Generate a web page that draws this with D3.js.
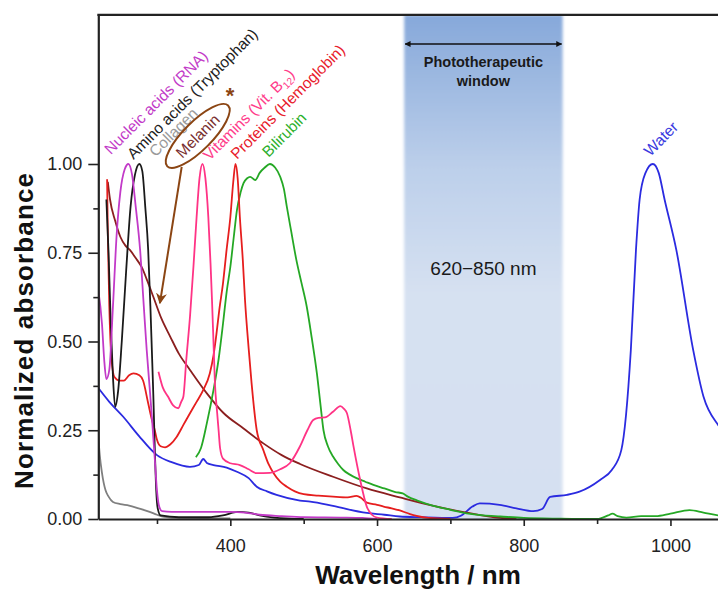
<!DOCTYPE html>
<html>
<head>
<meta charset="utf-8">
<script src="https://cdn.jsdelivr.net/npm/d3@7"></script>
<style>
  body { margin: 0; background: #fff; }
  svg { display: block; font-family: "Liberation Sans", Arial, sans-serif; }
</style>
</head>
<body>
<svg id="chart" width="718" height="592"></svg>
<script>
// spectra (wavelength in nm, normalized absorbance)
var nucleicNm  = [220, 225, 228, 231, 235, 240, 245, 250, 256, 261, 266, 271, 277, 282, 286, 290, 293, 297, 300, 303, 307, 320, 360, 400, 420, 440, 470, 500, 550, 580, 600];
var nucleicAbs = [0.645, 0.55, 0.45, 0.394, 0.42, 0.6, 0.8, 0.92, 0.985, 1.0, 0.97, 0.88, 0.758, 0.6, 0.476, 0.37, 0.288, 0.17, 0.08, 0.035, 0.022, 0.02, 0.02, 0.02, 0.018, 0.012, 0.008, 0.005, 0.004, 0.003, 0.0];

var aminoNm  = [231, 234, 237, 240, 243, 247, 252, 258, 264, 270, 276, 280, 284, 288, 291, 293, 295, 297, 299, 301, 305, 330, 370, 390, 410, 425, 440, 460, 500];
var aminoAbs = [0.9, 0.75, 0.55, 0.4, 0.316, 0.36, 0.5, 0.7, 0.88, 0.97, 1.0, 0.98, 0.88, 0.758, 0.6, 0.476, 0.35, 0.2, 0.08, 0.03, 0.01, 0.005, 0.005, 0.01, 0.02, 0.018, 0.01, 0.004, 0.0];

var collagenNm  = [220, 222, 225, 230, 234, 240, 250, 262, 275, 290, 300, 310, 330, 400];
var collagenAbs = [0.232, 0.18, 0.13, 0.08, 0.063, 0.048, 0.042, 0.038, 0.03, 0.02, 0.012, 0.006, 0.003, 0.002];

var melaninNm  = [233, 236, 243, 250, 257, 263, 271, 279, 287, 295, 306, 318, 330, 345, 368, 390, 418, 445, 470, 495, 540, 586, 631, 677, 722, 768, 790];
var melaninAbs = [0.95, 0.9, 0.84, 0.795, 0.77, 0.758, 0.735, 0.71, 0.67, 0.626, 0.565, 0.514, 0.465, 0.42, 0.354, 0.3, 0.255, 0.213, 0.18, 0.155, 0.119, 0.086, 0.061, 0.037, 0.018, 0.003, 0.0];

var vitaminNm  = [302, 308, 315, 322, 329, 333, 336, 340, 345, 350, 354, 358, 362, 366, 370, 373, 375, 377, 379, 382, 384, 386, 390, 400, 413, 425, 436, 454, 468, 481, 495, 505, 513, 520, 529, 540, 550, 555, 559, 564, 568, 577, 586, 593, 600, 620];
var vitaminAbs = [0.415, 0.37, 0.345, 0.32, 0.312, 0.33, 0.345, 0.45, 0.57, 0.72, 0.85, 0.96, 1.0, 0.96, 0.85, 0.72, 0.617, 0.5, 0.383, 0.3, 0.25, 0.2, 0.17, 0.157, 0.152, 0.14, 0.129, 0.13, 0.14, 0.157, 0.205, 0.25, 0.279, 0.285, 0.286, 0.302, 0.318, 0.31, 0.298, 0.25, 0.204, 0.11, 0.035, 0.012, 0.004, 0.0];

var proteinNm  = [232, 233, 235, 238, 242, 249, 255, 262, 268, 276, 281, 288, 293, 297, 300, 305, 311, 318, 327, 336, 345, 354, 363, 372, 377, 381, 385, 390, 395, 400, 404, 407, 410, 413, 417, 420, 425, 429, 436, 445, 452, 459, 468, 477, 488, 500, 520, 540, 560, 572, 578, 586, 600, 609, 620, 631, 645, 654, 670, 700];
var proteinAbs = [0.957, 0.8, 0.6, 0.45, 0.4, 0.39, 0.39, 0.405, 0.41, 0.405, 0.39, 0.326, 0.28, 0.25, 0.223, 0.205, 0.202, 0.21, 0.232, 0.265, 0.298, 0.33, 0.363, 0.41, 0.46, 0.52, 0.59, 0.664, 0.76, 0.85, 0.95, 1.0, 0.96, 0.85, 0.73, 0.617, 0.48, 0.382, 0.25, 0.194, 0.155, 0.129, 0.105, 0.091, 0.078, 0.07, 0.066, 0.063, 0.061, 0.065, 0.06, 0.046, 0.04, 0.035, 0.03, 0.024, 0.014, 0.009, 0.003, 0.0];

var bilirubinNm  = [353, 360, 368, 377, 384, 390, 395, 400, 405, 409, 414, 418, 423, 427, 434, 440, 447, 454, 461, 468, 473, 477, 483, 490, 497, 504, 511, 518, 523, 527, 533, 540, 547, 554, 563, 572, 584, 595, 610, 625, 635, 642, 655, 677, 700, 722, 745, 768, 800, 850, 900, 915, 921, 928, 940, 960, 980, 1000, 1026, 1045, 1065, 1080];
var bilirubinAbs = [0.174, 0.2, 0.27, 0.363, 0.45, 0.55, 0.64, 0.71, 0.8, 0.87, 0.92, 0.946, 0.96, 0.964, 0.955, 0.975, 0.99, 1.0, 0.99, 0.964, 0.93, 0.88, 0.81, 0.73, 0.665, 0.6, 0.51, 0.41, 0.32, 0.25, 0.205, 0.176, 0.155, 0.138, 0.125, 0.115, 0.105, 0.096, 0.086, 0.076, 0.072, 0.063, 0.052, 0.037, 0.026, 0.016, 0.01, 0.007, 0.003, 0.001, 0.0, 0.01, 0.015, 0.008, 0.004, 0.008, 0.008, 0.015, 0.025, 0.018, 0.01, 0.008];

var waterNm  = [220, 235, 254, 275, 300, 320, 345, 357, 363, 368, 377, 395, 409, 425, 436, 450, 463, 495, 509, 540, 586, 610, 631, 660, 703, 715, 730, 740, 767, 790, 813, 825, 836, 859, 876, 904, 920, 933, 946, 953, 958, 966, 976, 984, 992, 1008, 1031, 1045, 1065, 1080];
var waterAbs = [0.369, 0.33, 0.288, 0.235, 0.18, 0.16, 0.147, 0.152, 0.169, 0.158, 0.152, 0.145, 0.133, 0.115, 0.091, 0.078, 0.068, 0.052, 0.049, 0.037, 0.017, 0.012, 0.007, 0.005, 0.003, 0.01, 0.035, 0.044, 0.04, 0.03, 0.022, 0.028, 0.062, 0.068, 0.077, 0.11, 0.138, 0.194, 0.476, 0.758, 0.9, 0.975, 1.0, 0.975, 0.9, 0.758, 0.476, 0.345, 0.265, 0.23];

var xMajorTicks = [400, 600, 800, 1000];
var xMinorTicks = [300, 500, 700, 900];
var yMajorTicks = [0, 0.25, 0.5, 0.75, 1.0];
var yMinorTicks = [0.125, 0.375, 0.625, 0.875];

var windowNm = [637, 853];

var series = [
  {name: "Water",       nm: waterNm,     abs: waterAbs,     color: "#2b2be0"},
  {name: "Collagen",    nm: collagenNm,  abs: collagenAbs,  color: "#7f7f7f"},
  {name: "Melanin",     nm: melaninNm,   abs: melaninAbs,   color: "#8b1f1f"},
  {name: "Bilirubin",   nm: bilirubinNm, abs: bilirubinAbs, color: "#25a825"},
  {name: "Proteins",    nm: proteinNm,   abs: proteinAbs,   color: "#e61e1e"},
  {name: "Vitamins",    nm: vitaminNm,   abs: vitaminAbs,   color: "#ff3385"},
  {name: "Amino acids", nm: aminoNm,     abs: aminoAbs,     color: "#1a1a1a"},
  {name: "Nucleic",     nm: nucleicNm,   abs: nucleicAbs,   color: "#c23ac8"}
];

// rotated labels: anchor in data units
var labels = [
  {parts: ["Nucleic acids (RNA)"],        nm: 237,   v: 1.025, color: "#c23ac8"},
  {parts: ["Amino acids (Tryptophan)"],   nm: 268,   v: 1.011, color: "#222"},
  {parts: ["Collagen"],                   nm: 298,   v: 1.018, color: "#9a9a9a"},
  {parts: ["Vitamins (Vit. B", "12", ")"], nm: 371.5, v: 1.008, color: "#ff3d8b"},
  {parts: ["Proteins (Hemoglobin)"],      nm: 409,   v: 1.011, color: "#e8202c"},
  {parts: ["Bilirubin"],                  nm: 452,   v: 1.017, color: "#2cb02c"},
  {parts: ["Water"],                      nm: 972.5, v: 1.02,  color: "#3a3ae0"}
];

var svg = d3.select("#chart");

var x = d3.scaleLinear().domain([220, 1100]).range([98.3, 743.8]);
var y = d3.scaleLinear().domain([0, 1.42]).range([519, 14.9]);

var defs = svg.append("defs");

var grad = defs.append("linearGradient")
    .attr("id", "winGrad")
    .attr("x1", 0).attr("y1", 0).attr("x2", 0).attr("y2", 1);
grad.append("stop").attr("offset", "0%").attr("stop-color", "#86a8da");
grad.append("stop").attr("offset", "30%").attr("stop-color", "#bccfea");
grad.append("stop").attr("offset", "55%").attr("stop-color", "#d6e1f1");
grad.append("stop").attr("offset", "100%").attr("stop-color", "#d5e0f1");

defs.append("filter").attr("id", "soft")
  .append("feGaussianBlur").attr("stdDeviation", 1.8);

defs.append("clipPath").attr("id", "plotClip")
  .append("rect")
    .attr("x", x(220)).attr("y", y(1.42))
    .attr("width", x(1100) - x(220)).attr("height", y(0) - y(1.42));

// arrow markers
function addMarker(id, color, orient) {
  defs.append("marker")
      .attr("id", id)
      .attr("viewBox", "0 0 10 10")
      .attr("refX", 9).attr("refY", 5)
      .attr("markerWidth", 6).attr("markerHeight", 6)
      .attr("markerUnits", "userSpaceOnUse")
      .attr("orient", orient)
    .append("path")
      .attr("d", "M0,0 L10,5 L0,10 z")
      .attr("fill", color);
}
addMarker("arrBlackEnd", "#111", "auto");
addMarker("arrBlackStart", "#111", "auto-start-reverse");
defs.append("marker")
    .attr("id", "arrBrown")
    .attr("viewBox", "0 0 10 10")
    .attr("refX", 9).attr("refY", 5)
    .attr("markerWidth", 11).attr("markerHeight", 11)
    .attr("markerUnits", "userSpaceOnUse")
    .attr("orient", "auto")
  .append("path")
    .attr("d", "M0,0 L10,5 L0,10 L3,5 z")
    .attr("fill", "#8b4513");

var plot = svg.append("g").attr("clip-path", "url(#plotClip)");

// phototherapeutic window
plot.append("rect")
    .attr("x", x(windowNm[0]))
    .attr("y", y(1.42))
    .attr("width", x(windowNm[1]) - x(windowNm[0]))
    .attr("height", y(0) - y(1.42) + 4)
    .attr("fill", "url(#winGrad)")
    .attr("filter", "url(#soft)");

var line = d3.line()
    .x(function(d) { return x(d[0]); })
    .y(function(d) { return y(d[1]); })
    .curve(d3.curveMonotoneX);

plot.selectAll(".spec")
    .data(series)
  .enter().append("path")
    .attr("class", "spec")
    .attr("fill", "none")
    .attr("stroke", function(d) { return d.color; })
    .attr("stroke-width", 1.8)
    .attr("stroke-linejoin", "round")
    .attr("d", function(d) { return line(d3.zip(d.nm, d.abs)); });

// axes
var xAxis = svg.append("g")
    .attr("transform", "translate(0," + y(0) + ")")
    .call(d3.axisBottom(x).tickValues(xMajorTicks).tickFormat(d3.format("d"))
      .tickSize(7).tickSizeOuter(0).tickPadding(13));
svg.append("g")
    .attr("transform", "translate(0," + y(0) + ")")
    .call(d3.axisBottom(x).tickValues(xMinorTicks).tickFormat("")
      .tickSize(5).tickSizeOuter(0))
    .select(".domain").remove();

var yAxis = svg.append("g")
    .attr("transform", "translate(" + x(220) + ",0)")
    .call(d3.axisLeft(y).tickValues(yMajorTicks).tickFormat(d3.format(".2f"))
      .tickSize(10).tickSizeOuter(0).tickPadding(6));
svg.append("g")
    .attr("transform", "translate(" + x(220) + ",0)")
    .call(d3.axisLeft(y).tickValues(yMinorTicks).tickFormat("")
      .tickSize(5).tickSizeOuter(0))
    .select(".domain").remove();

svg.selectAll(".domain").attr("stroke", "#222").attr("stroke-width", 2.2);
svg.selectAll(".tick line").attr("stroke", "#222").attr("stroke-width", 1.6);
svg.selectAll(".tick text")
    .attr("font-size", 18)
    .attr("fill", "#222")
    .attr("font-family", "'Liberation Sans', Arial, sans-serif");

// top frame
svg.append("line")
    .attr("x1", x(220) - 1).attr("x2", x(1100))
    .attr("y1", y(1.42)).attr("y2", y(1.42))
    .attr("stroke", "#222").attr("stroke-width", 2.2);

// axis titles
svg.append("text")
    .attr("x", 418).attr("y", 584)
    .attr("text-anchor", "middle")
    .attr("font-size", 26).attr("font-weight", "bold")
    .attr("fill", "#111")
    .text("Wavelength / nm");

svg.append("text")
    .attr("transform", "translate(33,331) rotate(-90)")
    .attr("text-anchor", "middle")
    .attr("font-size", 26).attr("font-weight", "bold")
    .attr("textLength", 316).attr("lengthAdjust", "spacing")
    .attr("fill", "#111")
    .text("Normalized absorbance");

// window annotation
var wMid = (windowNm[0] + windowNm[1]) / 2;
svg.append("line")
    .attr("x1", x(windowNm[0]) + 1).attr("x2", x(windowNm[1]) - 1)
    .attr("y1", y(1.338)).attr("y2", y(1.338))
    .attr("stroke", "#111").attr("stroke-width", 1.6)
    .attr("marker-start", "url(#arrBlackStart)")
    .attr("marker-end", "url(#arrBlackEnd)");
svg.append("text")
    .attr("x", x(wMid)).attr("y", y(1.273))
    .attr("text-anchor", "middle")
    .attr("font-size", 14.5).attr("font-weight", "bold").attr("fill", "#1a1a1a")
    .text("Phototherapeutic");
svg.append("text")
    .attr("x", x(wMid)).attr("y", y(1.22))
    .attr("text-anchor", "middle")
    .attr("font-size", 14.5).attr("font-weight", "bold").attr("fill", "#1a1a1a")
    .text("window");
svg.append("text")
    .attr("x", x(wMid)).attr("y", y(0.687))
    .attr("text-anchor", "middle")
    .attr("font-size", 19).attr("fill", "#1a1a1a")
    .text("620\u2212850 nm");

// rotated compound labels
labels.forEach(function(l) {
  var t = svg.append("text")
      .attr("transform", "translate(" + x(l.nm) + "," + y(l.v) + ") rotate(-45)")
      .attr("font-size", 15.5)
      .attr("fill", l.color);
  t.append("tspan").text(l.parts[0]);
  if (l.parts.length > 1) {
    t.append("tspan").attr("font-size", 10).attr("dy", 4).text(l.parts[1]);
    t.append("tspan").attr("dy", -4).text(l.parts[2]);
  }
});

// melanin callout
var melC = [355.5, 1.079];
svg.append("ellipse")
    .attr("transform", "translate(" + x(melC[0]) + "," + y(melC[1]) + ") rotate(-45)")
    .attr("rx", 43).attr("ry", 14)
    .attr("fill", "none")
    .attr("stroke", "#8b4513").attr("stroke-width", 2);
svg.append("text")
    .attr("transform", "translate(" + x(melC[0]) + "," + y(melC[1]) + ") rotate(-45)")
    .attr("text-anchor", "middle")
    .attr("dy", "0.35em")
    .attr("font-size", 15.5)
    .attr("fill", "#7a3030")
    .text("Melanin");
svg.append("text")
    .attr("x", x(399.6)).attr("y", y(1.215))
    .attr("text-anchor", "middle")
    .attr("dy", "0.7em")
    .attr("font-size", 22).attr("font-weight", "bold")
    .attr("fill", "#8b4513")
    .text("*");
svg.append("line")
    .attr("x1", x(333.7)).attr("y1", y(0.992))
    .attr("x2", x(304)).attr("y2", y(0.608))
    .attr("stroke", "#8b4513").attr("stroke-width", 2)
    .attr("marker-end", "url(#arrBrown)");
</script>
</body>
</html>
